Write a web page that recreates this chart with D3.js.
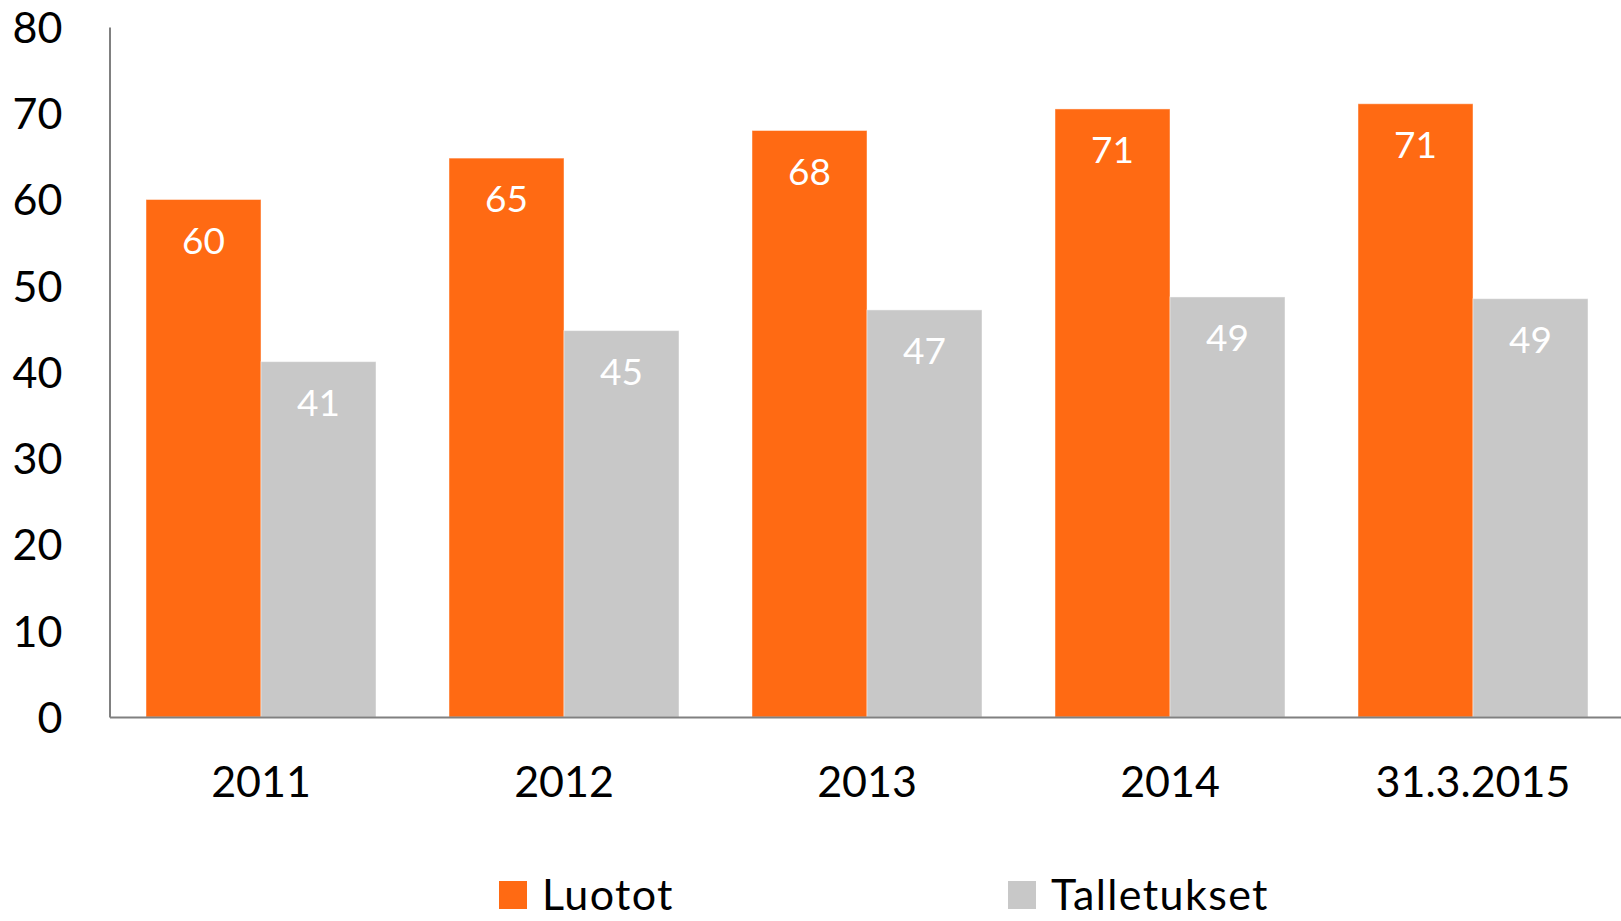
<!DOCTYPE html>
<html>
<head>
<meta charset="utf-8">
<script src="https://cdn.jsdelivr.net/npm/d3@7"></script>
<style>
  html, body { margin: 0; padding: 0; background: #ffffff; }
  svg { display: block; }
  text { font-family: Lato, "Open Sans", sans-serif; }
</style>
</head>
<body>
<svg id="chart" width="1621" height="921"></svg>
<script>
// Categories and series (billions of euros)
const categories = ["2011", "2012", "2013", "2014", "31.3.2015"];
const luotot = [60.0, 64.8, 68.0, 70.5, 71.1];
const talletukset = [41.2, 44.8, 47.2, 48.7, 48.5];
const seriesNames = ["Luotot", "Talletukset"];
const seriesColors = ["#ff6a13", "#c8c8c8"];
const yTicks = [0, 10, 20, 30, 40, 50, 60, 70, 80];

const svg = d3.select("#chart");

const plotLeft = 109.5, plotRight = 1624.5, plotTop = 27, plotBottom = 717;

const x = d3.scaleBand()
  .domain(categories)
  .range([plotLeft, plotRight])
  .paddingInner(0.241)
  .paddingOuter(0.1205);

const xs = d3.scaleBand()
  .domain(seriesNames)
  .range([0, x.bandwidth()]);

const y = d3.scaleLinear().domain([0, 80]).range([plotBottom, plotTop]);

const rows = categories.map((c, i) => ({
  cat: c,
  values: [
    { key: seriesNames[0], value: luotot[i], color: seriesColors[0] },
    { key: seriesNames[1], value: talletukset[i], color: seriesColors[1] }
  ]
}));

// Bars
const groups = svg.append("g").selectAll("g")
  .data(rows).join("g")
  .attr("transform", d => `translate(${x(d.cat)},0)`);

groups.selectAll("rect")
  .data(d => d.values).join("rect")
  .attr("x", d => xs(d.key))
  .attr("y", d => y(d.value))
  .attr("width", xs.bandwidth())
  .attr("height", d => y(0) - y(d.value))
  .attr("fill", d => d.color)
  .attr("stroke", "rgba(255,255,255,0.45)")
  .attr("stroke-width", 1);

// Value labels inside the bar tops
const fmt = d3.format(".0f");
groups.selectAll("text.val")
  .data(d => d.values).join("text")
  .attr("class", "val")
  .attr("x", d => xs(d.key) + xs.bandwidth() / 2)
  .attr("y", d => y(d.value) + 41)
  .attr("dy", "0.36em")
  .attr("text-anchor", "middle")
  .attr("fill", "#ffffff")
  .style("font-size", "37px")
  .text(d => fmt(d.value));

// Y axis
const yAxis = svg.append("g")
  .attr("transform", `translate(${plotLeft},0)`)
  .call(d3.axisLeft(y).tickValues(yTicks).tickSize(0).tickPadding(47).tickFormat(d3.format("d")));
yAxis.select(".domain").attr("stroke", "#808080").attr("stroke-width", 2);
yAxis.selectAll("text")
  .attr("dy", "0.36em")
  .attr("fill", "#000000")
  .style("font-size", "43px")
  .style("font-family", "Lato, 'Open Sans', sans-serif");

// X axis
const xAxis = svg.append("g")
  .attr("transform", `translate(0,${plotBottom})`)
  .call(d3.axisBottom(x).tickSize(0));
xAxis.select(".domain").attr("stroke", "#808080").attr("stroke-width", 2);
xAxis.selectAll("text")
  .attr("y", 65)
  .attr("dy", "0.36em")
  .attr("fill", "#000000")
  .style("font-size", "43px")
  .style("font-family", "Lato, 'Open Sans', sans-serif");

// Legend
const legendX = [499, 1008];
const legend = svg.append("g").selectAll("g")
  .data(seriesNames).join("g")
  .attr("transform", (d, i) => `translate(${legendX[i]},881)`);
legend.append("rect")
  .attr("width", 28).attr("height", 28)
  .attr("fill", (d, i) => seriesColors[i]);
legend.append("text")
  .attr("x", 43)
  .attr("y", 29)
  .attr("fill", "#000000")
  .style("font-size", "43px")
  .style("letter-spacing", "1.4px")
  .text(d => d);
</script>
</body>
</html>
